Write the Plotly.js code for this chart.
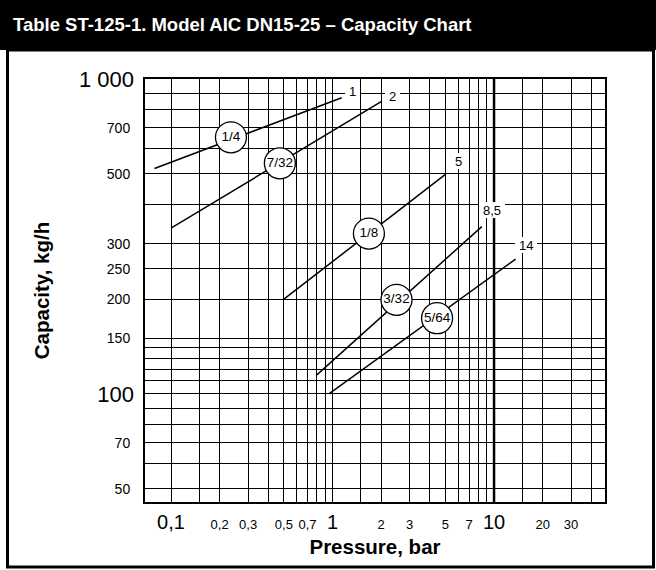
<!DOCTYPE html>
<html>
<head>
<meta charset="utf-8">
<script src="https://cdn.plot.ly/plotly-3.0.1.min.js"></script>
<style>html,body{margin:0;padding:0;background:#fff;}</style>
</head>
<body>
<div id="chart" style="width:656px;height:570px;"></div>
<script>
// ---------------- DATA ----------------
const chartTitle = 'Table ST-125-1. Model AIC DN15-25 – Capacity Chart';
const xTitle = 'Pressure, bar';
const yTitle = 'Capacity, kg/h';

// pressure grid lines (bar) and their labels
const pressureGrid = [0.1, 0.15, 0.2, 0.3, 0.4, 0.5, 0.6, 0.7, 0.8, 0.9, 1, 1.5, 2, 3, 4, 5, 6, 7, 8, 9, 10, 15, 20, 30, 40];
const pressureBigTicks = [0.1, 1, 10];
const pressureBigText = ['0,1', '1', '10'];
const pressureSmallTicks = [0.2, 0.3, 0.5, 0.7, 2, 3, 5, 7, 20, 30];
const pressureSmallText = ['0,2', '0,3', '0,5', '0,7', '2', '3', '5', '7', '20', '30'];

// capacity grid lines (kg/h) and their labels
const capacityGrid = [50, 60, 70, 80, 90, 100, 110, 120, 130, 140, 150, 200, 250, 300, 400, 500, 600, 700, 800, 900, 1000];
const capacitySmallTicks = [50, 70, 150, 200, 250, 300, 500, 700];
const capacitySmallText = ['50', '70', '150', '200', '250', '300', '500', '700'];
const capacityBigTicks = [100, 1000];
const capacityBigText = ['100', '1 000'];

// orifice lines
const orifices = ['1/4', '7/32', '1/8', '3/32', '5/64'];
const maxPressureLabels = ['1', '2', '5', '8,5', '14'];
const lineP = [[0.079, 1.14], [0.1, 2.0], [0.5, 5.0], [0.8, 8.4], [0.95, 13.6]];
const lineQ = [[520, 872], [336, 847], [200, 498], [115, 340], [100, 268]];
const circleP = [0.235, 0.472, 1.68, 2.49, 4.44];
const circleQ = [653, 540, 323, 199, 174];
const labelP = [1.32, 2.35, 6.03, 9.73, 15.7];
const labelQ = [916, 884, 550, 384, 298];

// ---------------- LAYOUT HELPERS ----------------
const W = 656, H = 570, ML = 145, MR = 51, MT = 79, MB = 68;
const PW = W - ML - MR, PH = H - MT - MB;
const pxX = X => (X - ML) / PW;
const pxY = Y => (H - MB - Y) / PH;
const NARROW = 'Liberation Sans Narrow, Arial Narrow, sans-serif';
const SANS = 'Liberation Sans, Arial, Helvetica, sans-serif';

function labelFor(v) {
  let i = pressureBigTicks.indexOf(v);
  if (i >= 0) return '<span style="font-size:20px">' + pressureBigText[i] + '</span>';
  i = pressureSmallTicks.indexOf(v);
  if (i >= 0) return pressureSmallText[i];
  return '';
}
function ylabelFor(v) {
  const i = capacitySmallTicks.indexOf(v);
  return i >= 0 ? capacitySmallText[i] : '';
}
function ylabelBig(v) {
  const i = capacityBigTicks.indexOf(v);
  return i >= 0 ? capacityBigText[i] : '';
}
function textWidth(s) {
  let w = 0;
  for (const c of s) w += (c === ',' ? 3.6 : 7.2);
  return w;
}

const yRange = [Math.log10(45.4), 3];
const xRange = [-1.161, 1.687];

// ---------------- TRACES ----------------
const traces = [];
for (let i = 0; i < orifices.length; i++) {
  traces.push({
    type: 'scatter', mode: 'lines',
    x: lineP[i], y: lineQ[i],
    line: {color: '#000', width: 1.5},
    hoverinfo: 'skip', showlegend: false
  });
}
traces.push({
  type: 'scatter', mode: 'markers+text',
  x: circleP, y: circleQ, text: orifices,
  textposition: 'middle center',
  textfont: {family: SANS, size: 13.5, color: '#000'},
  marker: {size: 31, color: '#fff', line: {color: '#000', width: 1.3}},
  cliponaxis: false, hoverinfo: 'skip', showlegend: false
});
traces.push({
  type: 'scatter', mode: 'markers', x: [], y: [], yaxis: 'y2',
  hoverinfo: 'skip', showlegend: false
});

const annotations = maxPressureLabels.map((t, i) => ({
  x: Math.log10(labelP[i]), y: Math.log10(labelQ[i]),
  xref: 'x', yref: 'y', text: t, showarrow: false,
  bgcolor: '#fff', borderpad: 0, borderwidth: 0,
  width: textWidth(t) + 8, height: 16,
  font: {family: SANS, size: 13, color: '#000'}
}));

const shapes = [
  {type: 'rect', xref: 'paper', yref: 'paper', x0: pxX(-2), x1: pxX(W + 2), y0: pxY(50), y1: pxY(-2),
   fillcolor: '#000', line: {width: 0}, layer: 'below'},
  {type: 'rect', xref: 'paper', yref: 'paper', x0: pxX(7.5), x1: pxX(653.5), y0: pxY(567), y1: pxY(50),
   fillcolor: 'rgba(0,0,0,0)', line: {color: '#000', width: 3}},
  {type: 'line', xref: 'x', yref: 'paper', x0: 10, x1: 10, y0: 0, y1: 1,
   line: {color: '#000', width: 2.5}}
];

const layout = {
  width: W, height: H,
  margin: {l: ML, r: MR, t: MT, b: MB, pad: 0},
  paper_bgcolor: '#fff', plot_bgcolor: '#fff',
  font: {family: SANS, color: '#000'},
  showlegend: false,
  title: {
    text: '<b>' + chartTitle + '</b>',
    font: {family: SANS, size: 18.5, color: '#fff'},
    xref: 'container', yref: 'container',
    x: 13 / W, xanchor: 'left', y: 1 - 25 / H, yanchor: 'middle'
  },
  xaxis: {
    type: 'log', range: xRange,
    tickmode: 'array', tickvals: pressureGrid, ticktext: pressureGrid.map(labelFor),
    tickfont: {family: NARROW, size: 13, color: '#000'},
    ticks: '', ticklabelstandoff: 9,
    showgrid: true, gridcolor: '#000', gridwidth: 1,
    showline: true, linecolor: '#000', linewidth: 2, mirror: true,
    zeroline: false, fixedrange: true,
    title: {text: '<b>' + xTitle + '</b>', font: {family: SANS, size: 20.5, color: '#000'}, standoff: 8}
  },
  yaxis: {
    type: 'log', range: yRange,
    tickmode: 'array', tickvals: capacityGrid, ticktext: capacityGrid.map(ylabelFor),
    tickfont: {family: NARROW, size: 14, color: '#000'},
    ticks: '', ticklabelstandoff: 10,
    showgrid: true, gridcolor: '#000', gridwidth: 1,
    showline: true, linecolor: '#000', linewidth: 2, mirror: true,
    zeroline: false, fixedrange: true,
    title: {text: '<b>' + yTitle + '</b>', font: {family: SANS, size: 20.5, color: '#000'}, standoff: 52}
  },
  yaxis2: {
    type: 'log', range: yRange, overlaying: 'y', side: 'left', anchor: 'x',
    tickmode: 'array', tickvals: capacityBigTicks, ticktext: capacityBigTicks.map(ylabelBig),
    tickfont: {family: NARROW, size: 22, color: '#000'},
    ticks: '', ticklabelstandoff: 10,
    showgrid: false, showline: false, zeroline: false, fixedrange: true
  },
  shapes: shapes,
  annotations: annotations
};

Plotly.newPlot('chart', traces, layout, {displayModeBar: false, staticPlot: true});
</script>
</body>
</html>
